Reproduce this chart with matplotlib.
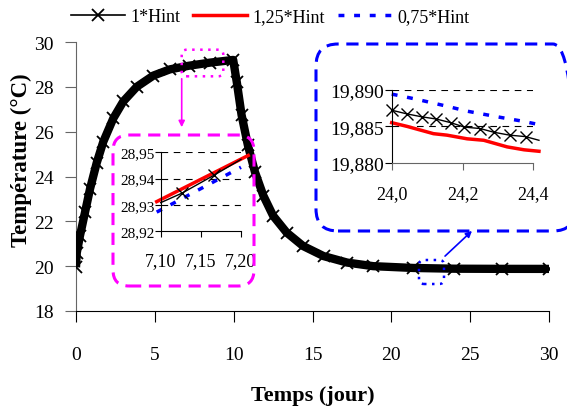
import matplotlib

matplotlib.use("Agg")
import matplotlib.pyplot as plt
from matplotlib.patches import FancyBboxPatch, FancyArrowPatch
from matplotlib.transforms import Affine2D

plt.rcParams["font.family"] = ["Liberation Serif", "DejaVu Serif"]

# main curve (1*Hint)
days = [0.0, 0.05, 0.25, 0.57, 0.89, 1.31, 1.73, 2.37, 3.0, 3.85, 4.9, 5.96, 7.15,
        8.5, 9.97, 10.2, 10.5, 10.9, 11.35, 11.88, 12.5, 13.36, 14.4, 15.7, 17.2,
        18.85, 21.4, 24.0, 27.0, 30.0]
temp_1 = [19.95, 20.6, 21.35, 22.4, 23.45, 24.6, 25.55, 26.6, 27.35, 28.0, 28.5,
          28.78, 28.94, 29.08, 29.2, 28.2, 26.75, 25.4, 24.2, 23.15, 22.25, 21.5,
          20.9, 20.45, 20.16, 20.0, 19.92, 19.887, 19.88, 19.878]
# the other two runs sit under the black band, only their start differs
temp_125 = [20.4] + temp_1[1:]
temp_075 = [20.2] + temp_1[1:]

# zoom 1 : around t = 7.1 - 7.2
z1_t_black = [7.10, 7.127, 7.166, 7.20]
z1_black = [28.9308, 28.9345, 28.9412, 28.9473]
z1_t_red = [7.095, 7.209]
z1_red = [28.9312, 28.9488]
z1_t_blue = [7.095, 7.20]
z1_blue = [28.9272, 28.9443]

# zoom 2 : around t = 24.0 - 24.4
z2_t_black = [24.0, 24.043, 24.085, 24.126, 24.167, 24.205, 24.25, 24.288, 24.333, 24.378, 24.416]
z2_black = [19.8872, 19.8867, 19.8863, 19.8860, 19.8855, 19.8849, 19.8847, 19.8842, 19.8838, 19.8836, 19.8831]
z2_t_red = [24.0, 24.043, 24.118, 24.156, 24.213, 24.26, 24.326, 24.374, 24.416]
z2_red = [19.8855, 19.8850, 19.8840, 19.8838, 19.8833, 19.8831, 19.8822, 19.8818, 19.8816]
z2_t_blue = [24.0, 24.07, 24.16, 24.21, 24.31, 24.37, 24.42]
z2_blue = [19.8894, 19.8887, 19.8877, 19.8871, 19.8862, 19.8857, 19.8852]

labels = ["1*Hint", "1,25*Hint", "0,75*Hint"]

W, H = 567, 414
MAGENTA = "#ff00ff"
BLUE = "#0000ff"
RED = "#ff0000"
BLUE_DOT = (0, (1.7, 2.8))


def box(x0, y0, x1, y1):
    # pixel box (top-left origin) -> figure fractions
    return [x0 / W, 1 - y1 / H, (x1 - x0) / W, (y1 - y0) / H]


fig = plt.figure(figsize=(W / 100, H / 100), dpi=100)
pix = Affine2D().scale(1 / 100) + fig.dpi_scale_trans

ax = fig.add_axes(box(76, 43, 549, 312))
ax.plot(days, temp_125, color=RED, lw=2.5, zorder=2)
ax.plot(days, temp_075, color=BLUE, lw=2.5, ls=BLUE_DOT, zorder=2)
ax.plot(days, temp_1, color="black", lw=6, zorder=3, solid_capstyle="butt")
ax.plot(days, temp_1, color="black", lw=0, marker="x", ms=8, mew=1.3, zorder=4)
ax.set_xlim(0, 30)
ax.set_ylim(18, 30)
ax.set_xticks(range(0, 31, 5))
ax.set_yticks(range(18, 31, 2))
for s in ["top", "right"]:
    ax.spines[s].set_visible(False)
ax.spines["left"].set_color("#666666")
ax.spines["bottom"].set_color("black")
ax.tick_params(axis="y", length=8, color="#666666", labelsize=14, pad=8)
ax.tick_params(axis="x", length=8, labelsize=14, pad=17)
ax.set_xlabel("Temps (jour)", fontsize=16, fontweight="bold")
ax.set_ylabel("Température (°C)", fontsize=16.5, fontweight="bold")
ax.xaxis.set_label_coords(0.5, -0.275)
ax.yaxis.set_label_coords(-0.092, 0.565)

# legend
handles = [
    plt.Line2D([], [], color="black", lw=1.2, marker="x", ms=8, mew=1.3),
    plt.Line2D([], [], color=RED, lw=2.5),
    plt.Line2D([], [], color=BLUE, lw=2.5, ls=BLUE_DOT),
]
fig.legend(handles, labels, loc="center", bbox_to_anchor=(270 / W, 1 - 18 / H), ncol=3,
           frameon=False, fontsize=13, handlelength=3.0, handletextpad=0.3,
           columnspacing=0.7, borderpad=0.2)

# zoom 1 inset
ax1 = fig.add_axes(box(160.7, 153.3, 241, 232))
ax1.set_facecolor("none")
ax1.plot(z1_t_red, z1_red, color=RED, lw=2.5, clip_on=False)
ax1.plot(z1_t_blue, z1_blue, color=BLUE, lw=2.5, ls=BLUE_DOT, clip_on=False)
ax1.plot(z1_t_black, z1_black, color="black", lw=1, marker="x", ms=8, mew=1,
         markevery=[1, 2], clip_on=False)
ax1.set_xlim(7.10, 7.20)
ax1.set_ylim(28.92, 28.95)
ax1.set_xticks([7.10, 7.15, 7.20])
ax1.set_xticklabels(["7,10", "7,15", "7,20"])
ax1.set_yticks([28.92, 28.93, 28.94, 28.95])
ax1.set_yticklabels(["28,92", "28,93", "28,94", "28,95"])
for v in [28.93, 28.94, 28.95]:
    ax1.axhline(v, color="black", lw=0.8, ls=(0, (6, 5)), zorder=0)
for s in ["top", "right"]:
    ax1.spines[s].set_visible(False)
ax1.tick_params(axis="y", length=4, labelsize=11, pad=0.5)
ax1.tick_params(axis="x", length=4, labelsize=13, pad=11)

# zoom 2 inset
ax2 = fig.add_axes(box(391.7, 90.7, 533.3, 164))
ax2.set_facecolor("none")
ax2.plot(z2_t_red, z2_red, color=RED, lw=2.5, clip_on=False)
ax2.plot(z2_t_blue, z2_blue, color=BLUE, lw=2.5, ls=BLUE_DOT, clip_on=False)
ax2.plot(z2_t_black, z2_black, color="black", lw=1, marker="x", ms=8, mew=1,
         markevery=list(range(len(z2_t_black) - 1)), clip_on=False)
ax2.set_xlim(24.0, 24.4)
ax2.set_ylim(19.880, 19.890)
ax2.set_xticks([24.0, 24.2, 24.4])
ax2.set_xticklabels(["24,0", "24,2", "24,4"])
ax2.set_yticks([19.880, 19.885, 19.890])
ax2.set_yticklabels(["19,880", "19,885", "19,890"])
for v in [19.885, 19.890]:
    ax2.axhline(v, color="black", lw=0.8, ls=(0, (6, 5)), zorder=0)
for s in ["top", "right"]:
    ax2.spines[s].set_visible(False)
ax2.spines["bottom"].set_color("#666666")
ax2.tick_params(axis="y", length=5, labelsize=14, pad=0.5)
ax2.tick_params(axis="x", length=5, color="#666666", labelsize=13, pad=11)

# frames and arrows, given as pixel boxes measured from the top-left corner
frames = [
    (113, 136, 254, 287, 16, MAGENTA, 2.2, (0, (4, 2.5))),
    (316, 45, 575, 232, 22, BLUE, 2.2, (0, (4, 2.5))),
    (181.7, 50.7, 223.3, 77.3, 5, MAGENTA, 1.8, (0, (1, 2.2))),
    (419, 261, 444, 285, 5, BLUE, 1.8, (0, (1, 2.2))),
]
for x0, y0, x1, y1, r, c, lw, ls in frames:
    p = FancyBboxPatch((x0, H - y1), x1 - x0, y1 - y0,
                       boxstyle=f"round,pad=0,rounding_size={r}",
                       transform=pix, fill=False, ec=c, lw=lw, ls=ls, zorder=5)
    fig.patches.append(p)

fig.patches.append(FancyArrowPatch((181.7, H - 77), (181.7, H - 131), transform=pix,
                                   arrowstyle="-|>", mutation_scale=9, color=MAGENTA, lw=1.2))
fig.patches.append(FancyArrowPatch((443, H - 259), (474, H - 230), transform=pix,
                                   arrowstyle="-|>", mutation_scale=9, color=BLUE, lw=1.2))

fig.savefig("out.png", dpi=100)
